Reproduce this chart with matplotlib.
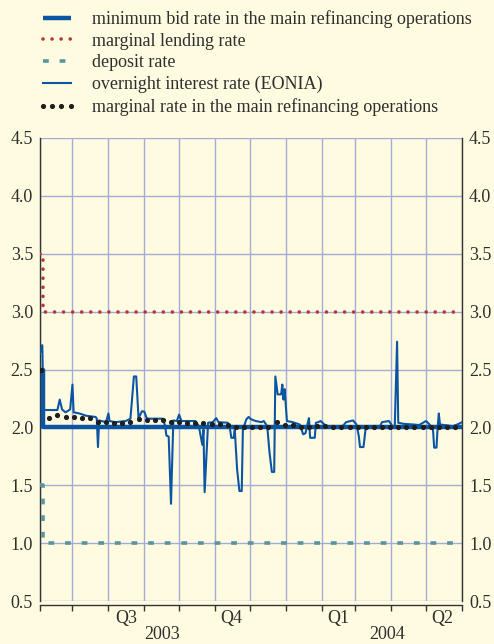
import numpy as np
import pandas as pd
import matplotlib
matplotlib.use("Agg")
import matplotlib.pyplot as plt

plt.rcParams['font.family'] = ['Liberation Serif', 'DejaVu Serif']

# key ECB rates (step changes, percentages per annum)
rate_dates = ['2003-06-03', '2003-06-06', '2004-06-01']
min_bid = [2.5, 2.0, 2.0]
marg_lending = [3.5, 3.0, 3.0]
deposit = [1.5, 1.0, 1.0]

# overnight rate EONIA
eonia_dates = ['2003-06-03', '2003-06-05', '2003-06-06', '2003-06-09', '2003-06-18',
               '2003-06-20', '2003-06-22', '2003-06-25', '2003-06-29', '2003-07-01',
               '2003-07-02', '2003-07-07', '2003-07-13', '2003-07-21', '2003-07-22',
               '2003-07-23', '2003-07-24', '2003-07-30', '2003-08-01', '2003-08-02',
               '2003-08-07', '2003-08-16', '2003-08-20', '2003-08-23', '2003-08-25',
               '2003-08-27', '2003-08-28', '2003-08-30', '2003-09-01', '2003-09-03',
               '2003-09-05', '2003-09-17', '2003-09-19', '2003-09-20', '2003-09-22',
               '2003-09-24', '2003-09-26', '2003-09-29', '2003-10-01', '2003-10-03',
               '2003-10-15', '2003-10-18', '2003-10-21', '2003-10-22', '2003-10-23',
               '2003-10-26', '2003-10-30', '2003-11-02', '2003-11-04', '2003-11-12',
               '2003-11-14', '2003-11-15', '2003-11-17', '2003-11-18', '2003-11-20',
               '2003-11-22', '2003-11-24', '2003-11-25', '2003-11-28', '2003-11-30',
               '2003-12-02', '2003-12-06', '2003-12-11', '2003-12-13', '2003-12-16',
               '2003-12-18', '2003-12-20', '2003-12-22', '2003-12-23', '2003-12-25',
               '2003-12-28', '2003-12-29', '2003-12-30', '2003-12-31', '2004-01-02',
               '2004-01-07', '2004-01-13', '2004-01-16', '2004-01-18', '2004-01-20',
               '2004-01-21', '2004-01-22', '2004-01-26', '2004-01-27', '2004-01-29',
               '2004-01-31', '2004-02-05', '2004-02-19', '2004-02-22', '2004-02-28',
               '2004-03-02', '2004-03-04', '2004-03-05', '2004-03-08', '2004-03-10',
               '2004-03-13', '2004-03-22', '2004-03-24', '2004-03-30', '2004-04-02',
               '2004-04-04', '2004-04-06', '2004-04-07', '2004-04-12', '2004-04-20',
               '2004-04-25', '2004-05-01', '2004-05-04', '2004-05-07', '2004-05-08',
               '2004-05-10', '2004-05-11', '2004-05-12', '2004-05-13', '2004-05-17',
               '2004-05-24', '2004-05-28', '2004-06-01']
eonia = [2.64, 2.71, 2.15, 2.15, 2.15,
         2.24, 2.155, 2.13, 2.155, 2.37,
         2.13, 2.12, 2.10, 2.09, 2.075,
         1.83, 2.06, 2.045, 2.12, 2.055,
         2.045, 2.055, 2.075, 2.44, 2.44,
         2.08, 2.10, 2.14, 2.135, 2.08,
         2.075, 2.075, 2.01, 1.93, 1.92,
         1.34, 2.06, 2.055, 2.11, 2.055,
         2.055, 2.01, 1.85, 1.98, 1.44,
         2.04, 2.045, 2.08, 2.045, 2.04,
         1.98, 1.91, 1.91, 1.98, 1.64,
         1.45, 1.45, 1.98, 2.07, 2.09,
         2.07, 2.055, 2.045, 2.055, 2.01,
         1.78, 1.615, 1.615, 2.44, 2.285,
         2.285, 2.37, 2.24, 2.33, 2.055,
         2.045, 2.025, 1.94, 1.95, 2.04,
         2.08, 1.91, 1.91, 2.04, 2.045,
         2.055, 2.01, 2.01, 2.045, 2.06,
         2.025, 1.925, 1.83, 1.83, 2.00,
         2.01, 2.005, 2.045, 2.055, 2.01,
         2.01, 2.74, 2.04, 2.03, 2.025,
         2.02, 2.055, 2.025, 1.98, 1.825,
         1.825, 2.00, 2.12, 2.025, 2.02,
         2.01, 2.025, 2.045]

# marginal rate of the weekly main refinancing operations
mro_first = '2003-06-04'
mro_marginal = [2.50, 2.08, 2.11, 2.09, 2.09, 2.08, 2.08, 2.05, 2.05, 2.04,
                2.04, 2.05, 2.07, 2.06, 2.06, 2.06, 2.05, 2.05, 2.04, 2.04,
                2.04, 2.03, 2.03, 2.02, 2.00, 2.00, 2.00, 2.00, 2.00, 2.05,
                2.02, 2.02, 2.00, 2.00, 2.01, 2.01, 2.00, 2.00, 2.00, 2.00,
                2.00, 2.00, 2.00, 2.00, 2.00, 2.00, 2.00, 2.00, 2.00, 2.00,
                2.00, 2.00]

labels = ['minimum bid rate in the main refinancing operations',
          'marginal lending rate',
          'deposit rate',
          'overnight interest rate (EONIA)',
          'marginal rate in the main refinancing operations']

quarters = ['Q3', 'Q4', 'Q1', 'Q2']
quarter_mid = ['2003-08-16', '2003-11-15', '2004-02-15', '2004-05-15']
years = ['2003', '2004']
year_pos = ['2003-09-16', '2004-03-28']

bg = '#fefbe0'
blue = '#0b55a3'
red = '#b0373a'
teal = '#5b949f'
grid_c = '#a3acd8'
txt = '#2e2e2e'
fs = 13

rd = pd.to_datetime(rate_dates)
ed = pd.to_datetime(eonia_dates)
md = pd.date_range(mro_first, periods=len(mro_marginal), freq='7D')

fig = plt.figure(figsize=(4.94, 6.44), dpi=100, facecolor=bg)
ax = fig.add_axes([40/494, 1-601/644, 422/494, 463/644], facecolor=bg)

l1, = ax.plot(rd, min_bid, color=blue, lw=3.2, drawstyle='steps-post',
              solid_capstyle='butt', zorder=3, label=labels[0])
l2, = ax.plot(rd, marg_lending, color=red, lw=2.6, drawstyle='steps-post',
              linestyle=(0, (0.01, 2.5)), dash_capstyle='round', zorder=3, label=labels[1])
l3, = ax.plot(rd, deposit, color=teal, lw=2.6, drawstyle='steps-post',
              linestyle=(0, (1.6, 3.0)), dash_capstyle='butt', zorder=3, label=labels[2])
l4, = ax.plot(ed, eonia, color=blue, lw=1.5, zorder=4, label=labels[3])
l5, = ax.plot(md, mro_marginal, linestyle='none', marker='o', ms=2.7,
              color='#1e1e1e', zorder=5, label=labels[4])

ax.set_ylim(0.5, 4.5)
ax.set_yticks(np.arange(0.5, 4.6, 0.5))
ax.set_yticklabels([f'{v:.1f}' for v in np.arange(0.5, 4.6, 0.5)])
ax.set_xlim(pd.Timestamp('2003-06-03'), pd.Timestamp('2004-06-01'))
month_ticks = pd.date_range('2003-07-01', '2004-06-01', freq='MS')
ax.set_xticks([pd.Timestamp('2003-06-03')] + list(month_ticks))
ax.set_xticklabels([])
ax.grid(True, color=grid_c, lw=1.0, zorder=0)
ax.set_axisbelow(True)

ax.tick_params(axis='y', length=0, labelsize=fs, pad=5, labelleft=True,
               labelright=True, colors=txt)
ax.tick_params(axis='x', length=4, width=1, direction='out', color='#333333')
for s in ['left', 'right', 'bottom']:
    ax.spines[s].set_color('#333333')
    ax.spines[s].set_linewidth(1.0)
ax.spines['top'].set_visible(False)
ax.spines['bottom'].set_position(('outward', 3))

for q, d in zip(quarters, quarter_mid):
    ax.text(pd.Timestamp(d), -0.037, q, transform=ax.get_xaxis_transform(),
            ha='center', va='center', fontsize=fs, color=txt)
for y, d in zip(years, year_pos):
    ax.text(pd.Timestamp(d), -0.073, y, transform=ax.get_xaxis_transform(),
            ha='center', va='center', fontsize=fs, color=txt)

fig.legend(handles=[l1, l2, l3, l4, l5], loc='upper left',
           bbox_to_anchor=(38/494, 1-10/644), frameon=False, fontsize=fs,
           handlelength=2.1, handletextpad=0.9, labelspacing=0.26,
           borderpad=0, borderaxespad=0, numpoints=4, labelcolor=txt)

fig.savefig('out.png', dpi=100, facecolor=bg)
